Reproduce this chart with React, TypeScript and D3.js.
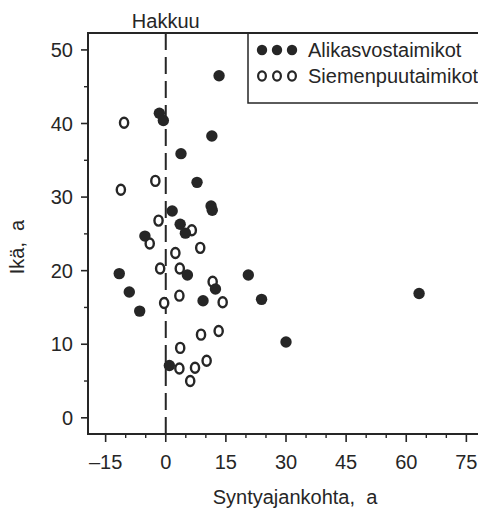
import React from "react";
import * as d3 from "d3";

const alikasvoX = [13.3, -1.6, -0.6, 11.5, 3.8, 7.8, 1.6, 11.3, 11.6, 3.6, 4.9, -5.2, -11.6, 5.4, -9.1, 12.4, 9.3, -6.5, 0.9, 20.6, 23.9, 30.0, 63.2];
const alikasvoY = [46.5, 41.4, 40.4, 38.3, 35.9, 32.0, 28.1, 28.8, 28.2, 26.3, 25.1, 24.7, 19.6, 19.4, 17.1, 17.5, 15.9, 14.5, 7.1, 19.4, 16.1, 10.3, 16.9];

const siemenX = [-10.4, -11.2, -2.6, -1.8, 6.5, 8.6, -4.0, 2.4, -1.4, 3.5, 11.7, 3.4, -0.4, 14.2, 8.8, 13.2, 3.6, 3.4, 7.3, 10.2, 6.1];
const siemenY = [40.1, 31.0, 32.2, 26.8, 25.5, 23.1, 23.7, 22.4, 20.3, 20.3, 18.5, 16.6, 15.6, 15.7, 11.3, 11.8, 9.5, 6.7, 6.8, 7.75, 5.0];

const xMajor = [-15, 0, 15, 30, 45, 60, 75];
const xMinor = [-10, -5, 5, 10, 20, 25, 35, 40, 50, 55, 65, 70];
const yMajor = [0, 10, 20, 30, 40, 50];
const yMinor = [5, 15, 25, 35, 45];

const legendLabels = ["Alikasvostaimikot", "Siemenpuutaimikot"];
const xTitle = "Syntyajankohta,  a";
const yTitle = "Ikä,  a";
const cutLabel = "Hakkuu";

const W = 478;
const H = 509;
const FONT = "'Liberation Sans', Arial, Helvetica, sans-serif";
const INK = "#262626";

export default function App() {
  const x = d3.scaleLinear().domain([-19.4, 77.9]).range([88, 478]);
  const y = d3.scaleLinear().domain([-2.2, 52.3]).range([434, 33]);
  const left = x.range()[0];
  const right = x.range()[1];
  const top = y.range()[1];
  const bottom = y.range()[0];

  const fmt = (v: number) => (v < 0 ? "\u2013" + Math.abs(v) : String(v));

  return (
    <svg
      width={W}
      height={H}
      style={{ position: "absolute", left: 0, top: 0, background: "#fff" }}
      fontFamily={FONT}
    >
      <rect x={0} y={0} width={W} height={H} fill="#fff" />
      {/* frame */}
      <line x1={left} x2={right} y1={top} y2={top} stroke={INK} strokeWidth={2} />
      <line x1={left} x2={left} y1={top - 1} y2={bottom + 1} stroke={INK} strokeWidth={2} />
      <line x1={left - 1} x2={right} y1={bottom} y2={bottom} stroke={INK} strokeWidth={2} />

      {/* y ticks */}
      {yMajor.map((v) => (
        <g key={"ym" + v}>
          <line x1={left - 7} x2={left} y1={y(v)} y2={y(v)} stroke={INK} strokeWidth={1.6} />
          <text x={73} y={y(v)} dy="0.36em" textAnchor="end" fontSize={20} fill={INK}>
            {fmt(v)}
          </text>
        </g>
      ))}
      {yMinor.map((v) => (
        <line key={"yn" + v} x1={left - 4} x2={left} y1={y(v)} y2={y(v)} stroke={INK} strokeWidth={1.4} />
      ))}

      {/* x ticks */}
      {xMajor.map((v) => (
        <g key={"xm" + v}>
          <line x1={x(v)} x2={x(v)} y1={bottom} y2={bottom + 8} stroke={INK} strokeWidth={1.6} />
          <text x={x(v)} y={469} textAnchor="middle" fontSize={20} fill={INK}>
            {fmt(v)}
          </text>
        </g>
      ))}
      {xMinor.map((v) => (
        <line key={"xn" + v} x1={x(v)} x2={x(v)} y1={bottom} y2={bottom + 4} stroke={INK} strokeWidth={1.4} />
      ))}

      {/* cut line */}
      <line
        x1={x(0)}
        x2={x(0)}
        y1={top}
        y2={bottom}
        stroke={INK}
        strokeWidth={2}
        strokeDasharray="17 7"
      />
      <text x={x(0)} y={28} textAnchor="middle" fontSize={20} fill={INK}>
        {cutLabel}
      </text>

      {/* open markers */}
      {siemenX.map((v, i) => (
        <ellipse
          key={"s" + i}
          cx={x(v)}
          cy={y(siemenY[i])}
          rx={4.1}
          ry={5}
          fill="#fff"
          stroke={INK}
          strokeWidth={2.4}
        />
      ))}
      {/* filled markers */}
      {alikasvoX.map((v, i) => (
        <circle key={"a" + i} cx={x(v)} cy={y(alikasvoY[i])} r={5.7} fill={INK} />
      ))}

      {/* legend */}
      <rect x={248} y={top} width={260} height={70} fill="none" stroke={INK} strokeWidth={1.5} />
      {[0, 1, 2].map((k) => (
        <circle key={"lf" + k} cx={262 + k * 15} cy={50} r={5.2} fill={INK} />
      ))}
      {[0, 1, 2].map((k) => (
        <ellipse key={"lo" + k} cx={262 + k * 15} cy={76} rx={3.9} ry={4.7} fill="#fff" stroke={INK} strokeWidth={2.2} />
      ))}
      <text x={308} y={57} fontSize={20} fill={INK}>
        {legendLabels[0]}
      </text>
      <text x={308} y={83} fontSize={20} fill={INK}>
        {legendLabels[1]}
      </text>

      {/* axis titles */}
      <text x={295} y={504} textAnchor="middle" fontSize={20} fill={INK} style={{ whiteSpace: "pre" }}>
        {xTitle}
      </text>
      <text
        transform={`translate(24, 247) rotate(-90)`}
        textAnchor="middle"
        fontSize={20}
        fill={INK}
        style={{ whiteSpace: "pre" }}
      >
        {yTitle}
      </text>
    </svg>
  );
}
